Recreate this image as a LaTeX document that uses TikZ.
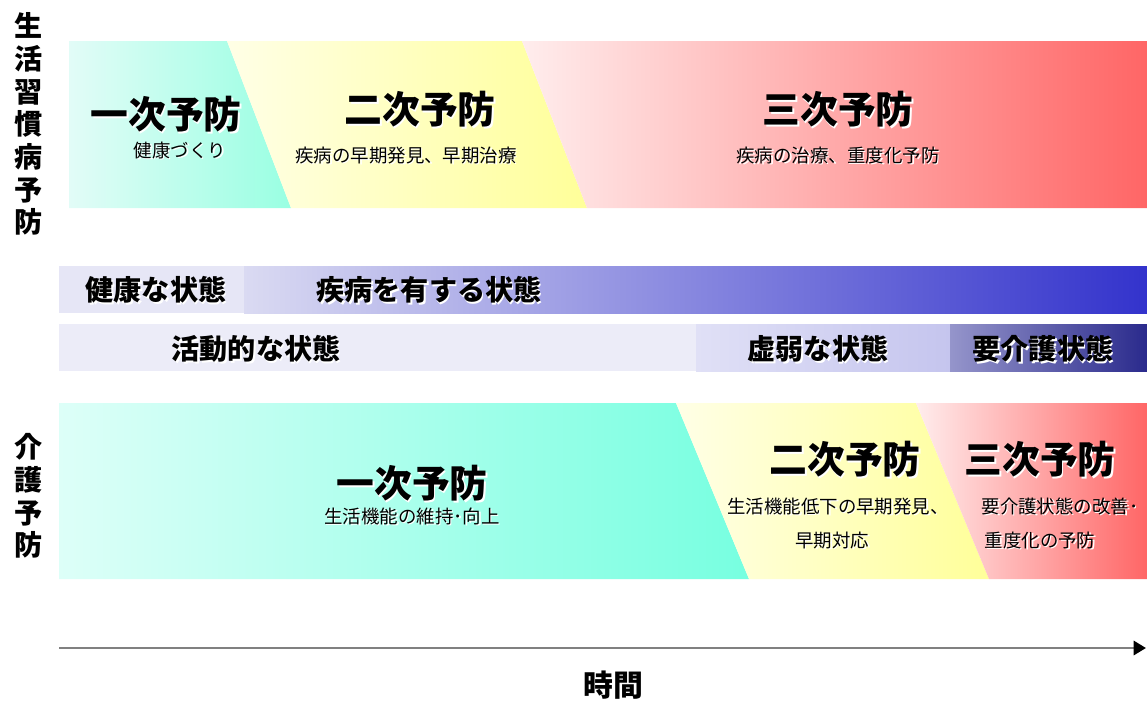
\documentclass[tikz,border=0pt]{standalone}
\usepackage{fontspec}
\newfontfamily\jp{Noto Sans CJK JP}
\usetikzlibrary{arrows.meta}
\definecolor{tealA}{HTML}{E2FCF7}
\definecolor{tealB}{HTML}{99FFE2}
\definecolor{tealC}{HTML}{DDFFF8}
\definecolor{tealD}{HTML}{77FFE0}
\definecolor{yelA}{HTML}{FFFFE6}
\definecolor{yelB}{HTML}{FFFF99}
\definecolor{pinkA}{HTML}{FFEDED}
\definecolor{redB}{HTML}{FF6666}
\definecolor{lavA}{HTML}{E6E6F6}
\definecolor{lavB}{HTML}{DADAF2}
\definecolor{bluB}{HTML}{3333CC}
\definecolor{lavC}{HTML}{ECECF8}
\definecolor{lavD}{HTML}{E0E0F6}
\definecolor{lavE}{HTML}{C5C5EE}
\definecolor{navA}{HTML}{9595CB}
\definecolor{navB}{HTML}{2A2A8C}
\newcommand\shtxt[1]{\makebox[0pt][l]{\kern0.9pt\raisebox{-0.9pt}{\color{white}#1}}#1}
\tikzset{
  band/.style={draw=none},
  bigt/.style={inner sep=0pt,font=\jp\bfseries\fontsize{21.5}{24}\selectfont},
  smallt/.style={inner sep=0pt,font=\jp\fontsize{10.5}{12}\selectfont},
  statet/.style={inner sep=0pt,font=\jp\bfseries\fontsize{16}{18}\selectfont},
  vlab/.style={inner sep=0pt,align=center,font=\jp\bfseries\fontsize{16}{18.6}\selectfont},
}
\begin{document}
\begin{tikzpicture}[x=0.02cm,y=-0.02cm]
\useasboundingbox (0,0) rectangle (1147,701);
% top band
\shade[band,left color=tealA,right color=tealB] (69,41) -- (227,41) -- (291,208) -- (69,208) -- cycle;
\shade[band,left color=yelA,right color=yelB] (227,41) -- (522,41) -- (587,208) -- (291,208) -- cycle;
\shade[band,left color=pinkA,right color=redB] (522,41) -- (1147,41) -- (1147,208) -- (587,208) -- cycle;
\node[bigt] (p1) at (166,115) {\shtxt{一次予防}};
\node[smallt] (p1s) at (180,151) {\shtxt{健康づくり}};
\node[bigt] (p2) at (420,110) {\shtxt{二次予防}};
\node[smallt] (p2s) at (406,156) {\shtxt{疾病の早期発見、早期治療}};
\node[bigt] (p3) at (838,110) {\shtxt{三次予防}};
\node[smallt] (p3s) at (838,156) {\shtxt{疾病の治療、重度化予防}};
\node[vlab] (v1) at (29,125) {\shtxt{生}\\\shtxt{活}\\\shtxt{習}\\\shtxt{慣}\\\shtxt{病}\\\shtxt{予}\\\shtxt{防}};
% row 2
\fill[lavA] (59,266) rectangle (244,313);
\shade[band,left color=lavB,right color=bluB] (244,266) rectangle (1147,313);
\node[statet] (s1) at (156,291) {\shtxt{健康な状態}};
\node[statet] (s2) at (429,291) {\shtxt{疾病を有する状態}};
% row 3
\fill[lavC] (59,324) rectangle (696,371);
\shade[band,left color=lavD,right color=lavE] (696,324) rectangle (950,371);
\shade[band,left color=navA,right color=navB] (950,324) rectangle (1147,371);
\node[statet] (s3) at (256,350) {\shtxt{活動的な状態}};
\node[statet] (s4) at (818,350) {\shtxt{虚弱な状態}};
\node[statet] (s5) at (1043,350) {\shtxt{要介護状態}};
% bottom band
\shade[band,left color=tealC,right color=tealD] (59,403) -- (676,403) -- (749,579) -- (59,579) -- cycle;
\shade[band,left color=yelA,right color=yelB] (676,403) -- (916,403) -- (989,579) -- (749,579) -- cycle;
\shade[band,left color=pinkA,right color=redB] (916,403) -- (1147,403) -- (1147,579) -- (989,579) -- cycle;
\node[bigt] (q1) at (412,484) {\shtxt{一次予防}};
\node[smallt] (q1s) at (412,517) {\shtxt{生活機能の維持･向上}};
\node[bigt] (q2) at (845,460) {\shtxt{二次予防}};
\node[smallt] (q2s) at (838,507) {\shtxt{生活機能低下の早期発見、}};
\node[smallt] (q2t) at (832,541) {\shtxt{早期対応}};
\node[bigt] (q3) at (1040,460) {\shtxt{三次予防}};
\node[smallt] (q3s) at (1060,507) {\shtxt{要介護状態の改善･}};
\node[smallt] (q3t) at (1040,541) {\shtxt{重度化の予防}};
\node[vlab] (v2) at (29,497) {\shtxt{介}\\\shtxt{護}\\\shtxt{予}\\\shtxt{防}};
% time axis
\coordinate (t0) at (59,648);
\coordinate (t1) at (1146,648);
\draw[line width=1.6pt,color=black!50,-{Triangle[length=7pt,width=8pt,color=black]}] (t0) -- (t1);
\node[statet,font=\jp\bfseries\fontsize{17}{19}\selectfont] (time) at (613,686) {\shtxt{時間}};
\end{tikzpicture}
\end{document}
